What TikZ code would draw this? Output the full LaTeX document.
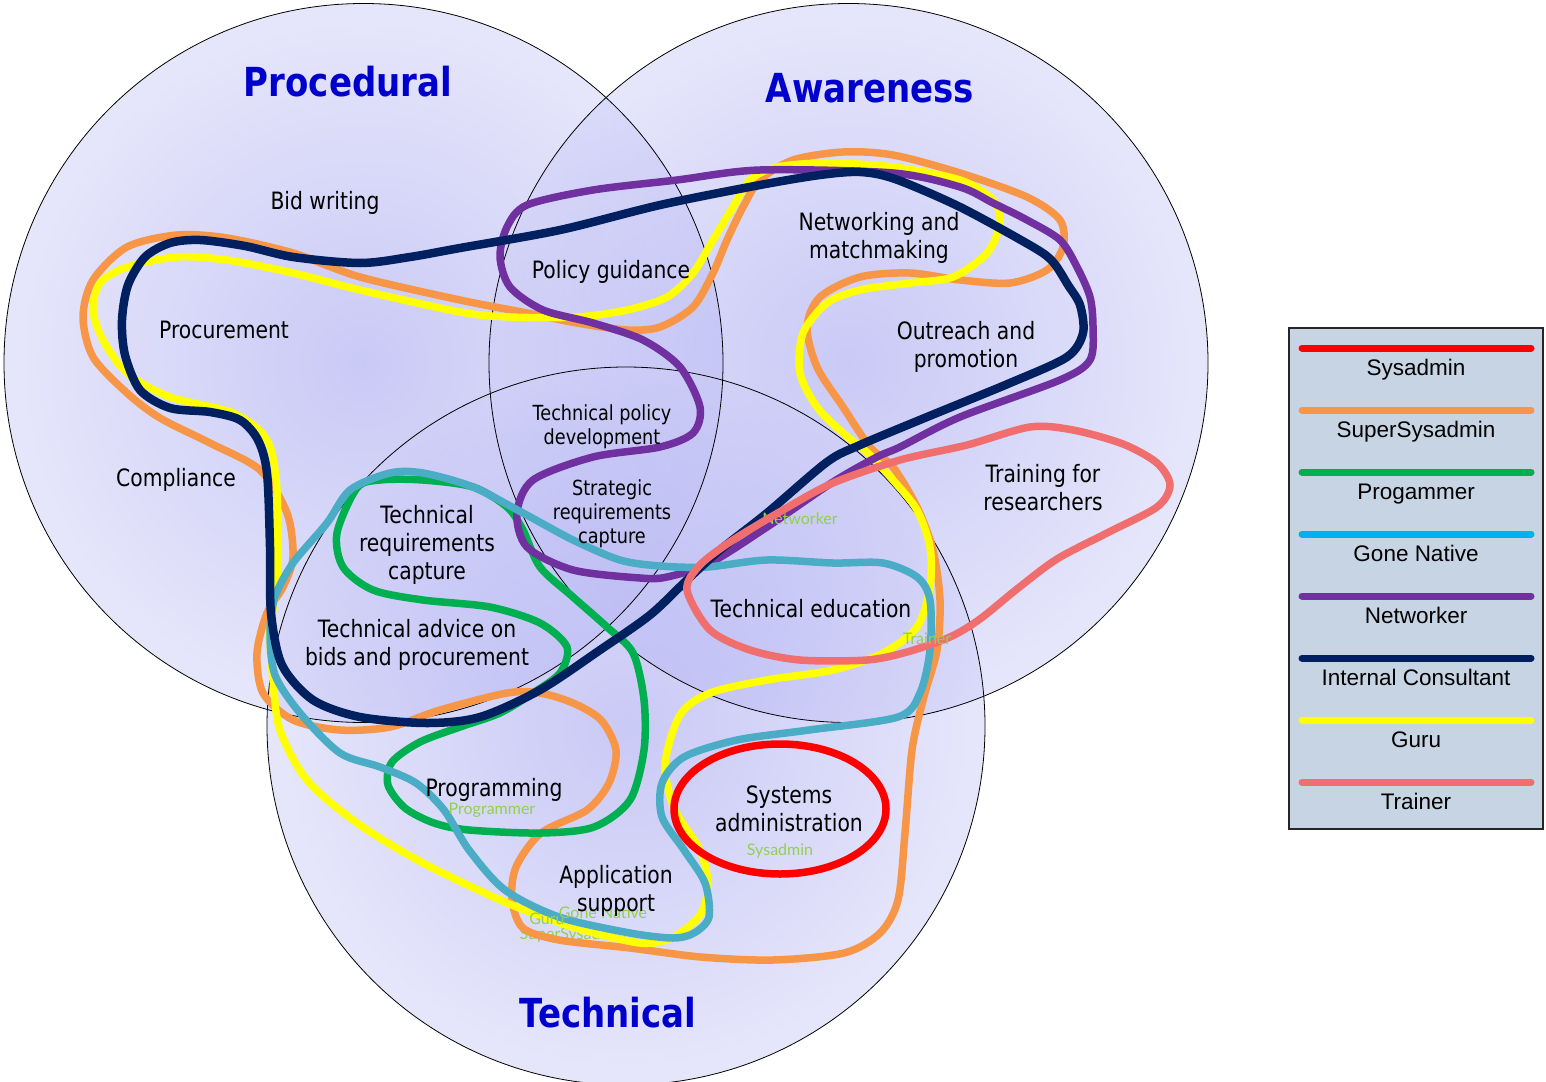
\documentclass[tikz,border=0pt]{standalone}
\usepackage{fontspec}
\setmainfont{DejaVu Sans}[FakeStretch=0.85]
\newfontfamily\legendfont{Liberation Sans}
\newfontfamily\tagfont{Lato}
\definecolor{vinner}{RGB}{148,148,238}
\definecolor{vouter}{RGB}{230,230,252}
\pgfdeclareradialshading{vennshade}{\pgfpoint{0bp}{0bp}}{color(0bp)=(vinner); color(35.36bp)=(vouter); color(50bp)=(vouter)}
\definecolor{csys}{RGB}{255,0,0}
\definecolor{csuper}{RGB}{247,150,70}
\definecolor{cprog}{RGB}{0,176,80}
\definecolor{cgone}{RGB}{75,172,198}
\definecolor{cgonelegend}{RGB}{0,176,240}
\definecolor{cnet}{RGB}{112,48,160}
\definecolor{ccons}{RGB}{0,32,96}
\definecolor{cguru}{RGB}{255,255,0}
\definecolor{ctrain}{RGB}{240,110,110}
\definecolor{titleblue}{RGB}{0,0,204}
\definecolor{taggreen}{RGB}{146,208,80}
\definecolor{legfill}{RGB}{199,212,227}
\begin{document}
\begin{tikzpicture}[x=1pt,y=-1pt,
  rolepath/.style={line width=7.5pt, line join=round},
  lab/.style={font=\fontsize{23.9}{28}\selectfont, align=center, inner sep=0pt},
  slab/.style={font=\fontsize{20.8}{24}\selectfont, align=center, inner sep=0pt},
  title/.style={font=\bfseries\fontsize{40}{44}\selectfont, text=titleblue, inner sep=0pt},
  tag/.style={font=\tagfont\fontsize{16}{18}\selectfont, text=taggreen, inner sep=0pt},
  legline/.style={line width=7pt, line cap=round},
  legtext/.style={font=\legendfont\fontsize{22.5}{26}\selectfont, inner sep=0pt, anchor=base},
  venn/.style={shading=vennshade, fill opacity=0.5}]
\useasboundingbox (0,0) rectangle (1546,1081);
% circles
\shade[venn] (363.5,363) circle[radius=359.5pt];
\shade[venn] (848.5,363) circle[radius=359.5pt];
\shade[venn] (626,726) circle[radius=359pt];
\draw[line width=0.8pt] (363.5,363) circle[radius=359.5pt];
\draw[line width=0.8pt] (848.5,363) circle[radius=359.5pt];
\draw[line width=0.8pt] (626,726) circle[radius=359pt];
% role tag under the loops
\node[tag] (tsuper) at (573,935) {SuperSysadmin};
% SuperSysadmin
\draw[rolepath, csuper] plot[smooth cycle] coordinates {
(177,235) (227,238) (293,253) (360,277) (460,300) (527,313) (577,323) (627,330)
(660,327) (693,307) (713,273) (727,240) (743,207) (760,180) (793,160) (843,152)
(893,155) (960,173) (1027,197) (1060,220) (1063,247) (1047,270) (1010,283) (960,280)
(910,273) (860,277) (820,297) (807,327) (817,367) (843,407) (870,447) (893,467)
(917,507) (933,550) (940,600) (937,650) (923,700) (912,750) (905,833) (898,900)
(880,933) (844,953) (773,960) (701,957) (630,948) (559,940) (523,928) (512,900)
(516,867) (541,833) (587,810) (609,783) (616,750) (601,720) (573,703) (540,693)
(507,693) (440,710) (390,727) (340,730) (293,720) (263,693) (257,653) (267,613)
(283,587) (293,557) (287,513) (260,470) (210,443) (160,418) (127,393) (93,357)
(83,317) (93,280) (127,247)};
% Guru
\draw[rolepath, cguru] plot[smooth cycle] coordinates {
(127,267) (177,257) (227,260) (293,273) (360,290) (460,312) (510,317) (577,317)
(627,310) (667,297) (693,273) (713,240) (733,207) (750,180) (777,167) (827,163)
(893,167) (960,180) (993,200) (1000,223) (987,253) (953,277) (910,283) (860,290)
(827,303) (803,333) (800,373) (817,407) (843,433) (870,455) (893,480) (917,510)
(930,547) (930,587) (917,627) (883,653) (833,670) (767,680) (710,693) (680,715)
(665,765) (675,810) (700,850) (708,885) (700,915) (673,937) (640,943) (573,927)
(507,903) (423,863) (357,823) (307,780) (280,730) (273,680) (270,630) (277,580)
(277,490) (267,440) (233,413) (170,397) (127,373) (103,340) (93,310) (100,283)};
% Programmer
\draw[rolepath, cprog] plot[smooth cycle] coordinates {
(357,488) (380,480) (423,480) (473,487) (507,507) (523,530) (540,567) (573,597)
(607,627) (633,653) (644,700) (644,750) (630,800) (594,827) (541,833) (469,830)
(434,823) (405,808) (388,785) (392,762) (420,742) (460,727) (500,713) (533,693)
(560,673) (567,647) (540,623) (490,607) (423,600) (373,590) (343,567) (337,533)};
% Networker
\draw[rolepath, cnet] plot[smooth cycle] coordinates {
(527,205) (593,190) (677,180) (760,170) (893,173) (960,187) (993,203) (1027,220)
(1060,240) (1077,267) (1090,297) (1093,327) (1090,360) (1060,380) (960,417)
(900,447) (877,457) (833,482) (767,527) (710,563) (667,577) (640,578) (573,570)
(527,547) (517,513) (533,480) (593,457) (660,447) (693,433) (700,407) (680,367)
(643,340) (593,323) (543,310) (510,287) (500,257) (507,227)};
% Gone Native
\draw[rolepath, cgone] plot[smooth cycle] coordinates {
(350,490) (390,473) (423,473) (473,487) (523,513) (573,540) (620,560) (660,566)
(707,567) (767,560) (833,563) (883,563) (917,577) (930,600) (930,650) (920,693)
(898,717) (809,730) (737,740) (684,757) (662,783) (662,817) (684,850) (705,883)
(709,917) (694,933) (673,938) (630,933) (559,917) (505,890) (469,850) (444,810)
(416,783) (380,767) (340,753) (300,713) (275,675) (270,633) (275,597) (293,563)
(327,523)};
% Internal Consultant
\draw[rolepath, ccons, line width=8.5pt] plot[smooth cycle] coordinates {
(200,240) (245,246) (293,257) (360,263) (410,257) (460,248) (560,230) (660,205)
(760,185) (820,175) (860,172) (895,179) (960,207) (1033,247) (1053,262) (1068,285)
(1080,305) (1083,333) (1067,357) (1010,383) (927,417) (860,445) (827,462) (767,513)
(720,550) (687,580) (650,615) (600,650) (540,690) (480,717) (427,723) (360,717)
(313,700) (282,665) (271,613) (270,547) (267,473) (258,440) (240,420) (210,412)
(170,408) (140,390) (125,355) (122,320) (128,285) (145,257) (170,243)};
% tag under the trainer loop only
\node[tag] (tnet) at (800,519) {Networker};
% Trainer
\draw[rolepath, ctrain] plot[smooth cycle] coordinates {
(687,590) (700,565) (733,540) (783,510) (833,483) (900,460) (967,445) (1030,427)
(1073,430) (1123,444) (1157,463) (1170,485) (1157,507) (1107,533) (1057,559)
(1017,589) (980,619) (950,637) (907,652) (867,660) (800,660) (750,650) (710,630)};
% Sysadmin
\draw[rolepath, csys] (780,809) ellipse[x radius=106pt, y radius=65pt];
% role tags over the loops
\node[tag] (ttrain) at (927,639) {Trainer};
\node[tag] (tprog) at (492,810) {Programmer};
\node[tag] (tsys) at (780,851) {Sysadmin};
\node[tag] (tgone) at (603,913) {Gone Native};
\node[tag] (tguru) at (547,919) {Guru};
% titles
\node[title] (proc) at (348,82) {Procedural};
\node[title] (aware) at (870,88) {Awareness};
\node[title] (tech) at (608,1013) {Technical};
% activity labels
\node[lab] (bid) at (325,203) {Bid writing};
\node[lab] (procure) at (224,330) {Procurement};
\node[lab] (compl) at (176,480) {Compliance};
\node[lab] (policy) at (611,272) {Policy guidance};
\node[lab] (netw) at (879,238) {Networking and\\matchmaking};
\node[lab] (outr) at (966,347) {Outreach and\\promotion};
\node[slab] (tpd) at (602,427) {Technical policy\\development};
\node[slab] (src) at (612,514) {Strategic\\requirements\\capture};
\node[lab] (trc) at (427,545) {Technical\\requirements\\capture};
\node[lab] (tab) at (417,645) {Technical advice on\\bids and procurement};
\node[lab] (tfr) at (1043,488) {Training for\\researchers};
\node[lab] (tedu) at (811,609) {Technical education};
\node[lab] (prog) at (494,790) {Programming};
\node[lab] (sysad) at (789,809) {Systems\\administration};
\node[lab] (apps) at (616,891) {Application\\support};
% legend
\draw[fill=legfill, draw=black!85, line width=2pt] (1289,328) rectangle (1543,829);
\foreach \c/\t [count=\i from 0] in {csys/Sysadmin, csuper/SuperSysadmin, cprog/Progammer, cgonelegend/Gone Native, cnet/Networker, ccons/Internal Consultant, cguru/Guru, ctrain/Trainer}{
  \draw[legline, \c] (1302,348+62*\i) -- (1531,348+62*\i);
  \node[legtext] (leg\i) at (1416,375+62*\i) {\t};
}
\end{tikzpicture}
\end{document}
